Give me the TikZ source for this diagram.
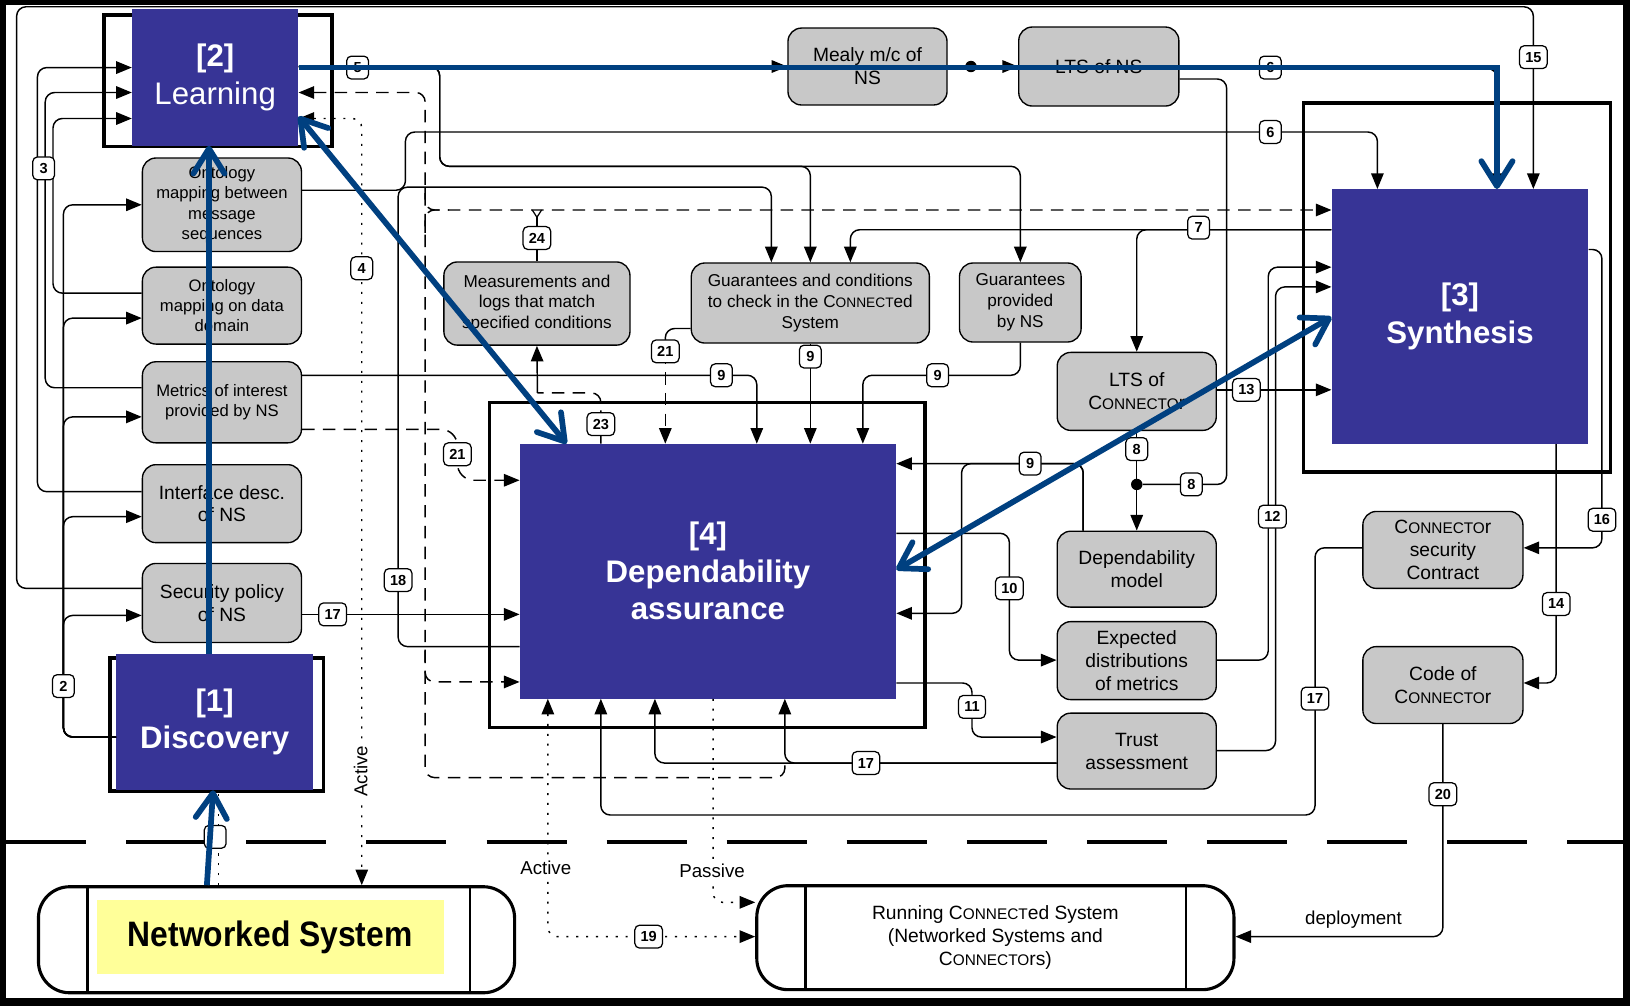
\documentclass[tikz,border=0pt]{standalone}
\usepackage{graphicx}
\usepackage{fontspec}
\setmainfont{Liberation Sans}
\usetikzlibrary{arrows.meta}

\definecolor{procblue}{RGB}{55,52,150}
\definecolor{flowblue}{RGB}{0,64,128}
\definecolor{boxgray}{RGB}{200,200,200}
\definecolor{nsyellow}{RGB}{255,255,153}

\newcommand\fs[2]{\fontsize{#1}{#2}\selectfont}
\newcommand\smc[2]{{\fontsize{#1}{#1}\selectfont #2}}

\tikzset{
  conn/.style={line width=1.4pt, rounded corners=9pt},
  arr/.style={conn, -{Triangle[length=15pt,width=12pt]}},
  rarr/.style={conn, {Triangle[length=15pt,width=12pt]}-},
  arrs/.style={conn, {Triangle[length=15pt,width=12pt]}-{Triangle[length=15pt,width=12pt]}},
  dsh/.style={dash pattern=on 12pt off 8pt},
  dtt/.style={dash pattern=on 2pt off 7.5pt},
  gbox/.style={draw, line width=1.3pt, fill=boxgray, rounded corners=13pt, align=center, inner sep=0pt},
  numlbl/.style={draw, line width=1.2pt, fill=white, rounded corners=4.5pt, inner xsep=5.5pt, inner ysep=1pt,
                 minimum width=21pt, minimum height=22pt, font=\bfseries\fs{14}{14}},
  procbox/.style={fill=procblue, text=white, align=center, inner sep=0pt, font=\fs{30}{36}},
  procframe/.style={draw, line width=3.3pt},
  pill/.style={draw, line width=3pt, rounded corners=30pt, inner sep=0pt, align=center},
  flow/.style={draw=flowblue, line width=5.5pt},
  flowtip/.tip={Straight Barb[length=24pt,width=30pt,round]},
  junction/.style={circle, fill=black, inner sep=0pt, minimum size=11pt},
  notelbl/.style={fill=white, inner sep=1pt, font=\fs{18}{20}},
}

\begin{document}
\begin{tikzpicture}[x=1pt, y=-1pt]
\useasboundingbox (0,0) rectangle (1568,968);

% page frame
\fill[black] (0,0) rectangle (1568,968);
\fill[white] (6,5) rectangle (1561,960);

% boundary between design time and run time
\draw[line width=3.5pt, dash pattern=on 77pt off 38.5pt] (6,810) -- (1561,810);

% frames of the four process blocks
\draw[procframe] (100,14.5) rectangle (319.5,141);
\draw[procframe] (1254,99) rectangle (1549,454);
\draw[procframe] (471,387) rectangle (890,700);
\draw[procframe] (106,633) rectangle (311,761);

% process blocks
\node[procbox, minimum width=160pt, minimum height=131pt] (learn) at (207,74.5) {\textbf{[2]}\\Learning};
\node[procbox, minimum width=189pt, minimum height=131pt, font=\bfseries\fs{30}{35}] (disc) at (206.5,694.5) {[1]\\Discovery};
\node[procbox, minimum width=247pt, minimum height=245pt, font=\bfseries\fs{30}{36}] (synth) at (1404.5,304.5) {[3]\\Synthesis};
\node[procbox, minimum width=362pt, minimum height=245pt, font=\bfseries\fs{30}{36}] (dep) at (681,549.5) {[4]\\Dependability\\assurance};

% artefacts
\node[gbox, minimum width=153pt, minimum height=90pt, font=\fs{16}{19.5}] (ontb) at (213.5,197) {Ontology\\mapping between\\message\\sequences};
\node[gbox, minimum width=153pt, minimum height=74pt, font=\fs{16}{19.5}] (ontd) at (213.5,294) {Ontology\\mapping on data\\domain};
\node[gbox, minimum width=153pt, minimum height=78pt, font=\fs{16}{19.5}] (metr) at (213.5,387) {Metrics of interest\\provided by NS};
\node[gbox, minimum width=153pt, minimum height=75pt, font=\fs{18.5}{22}] (intf) at (213.5,484.5) {Interface desc.\\of NS};
\node[gbox, minimum width=153pt, minimum height=76pt, font=\fs{18.5}{22}] (secp) at (213.5,580) {Security policy\\of NS};
\node[gbox, minimum width=179pt, minimum height=80pt, font=\fs{16.5}{20}] (meas) at (516.5,292) {Measurements and\\logs that match\\specified conditions};
\node[gbox, minimum width=229pt, minimum height=77pt, font=\fs{16.5}{20}] (gchk) at (779.5,291.5) {Guarantees and conditions\\to check in the C\smc{13.2}{ONNECT}ed\\System};
\node[gbox, minimum width=117pt, minimum height=76pt, font=\fs{16.5}{20}] (gprv) at (981.5,291) {Guarantees\\provided\\by NS};
\node[gbox, minimum width=153pt, minimum height=74pt, font=\fs{18.5}{22}] (mealy) at (834.5,64) {Mealy m/c of\\NS};
\node[gbox, minimum width=154pt, minimum height=76pt, font=\fs{18.5}{22}] (ltsns) at (1057,64) {LTS of NS};
\node[gbox, minimum width=153pt, minimum height=75pt, font=\fs{18.5}{22}] (ltsc) at (1093.5,376.5) {LTS of\\C\smc{14.8}{ONNECTO}r};
\node[gbox, minimum width=153pt, minimum height=73pt, font=\fs{18.5}{22}] (dmod) at (1093.5,547.5) {Dependability\\model};
\node[gbox, minimum width=153pt, minimum height=75pt, font=\fs{18.5}{22}] (expd) at (1093.5,635.5) {Expected\\distributions\\of metrics};
\node[gbox, minimum width=153pt, minimum height=73pt, font=\fs{18.5}{22}] (trst) at (1093.5,722.5) {Trust\\assessment};
\node[gbox, minimum width=154pt, minimum height=74pt, font=\fs{18.5}{22}] (csec) at (1388,529) {C\smc{14.8}{ONNECTO}r\\security\\Contract};
\node[gbox, minimum width=154pt, minimum height=74pt, font=\fs{18.5}{22}] (code) at (1388,659) {Code of\\C\smc{14.8}{ONNECTO}r};

% run-time systems
\node[pill, minimum width=458pt, minimum height=102pt] (ns) at (266,904) {};
\draw[line width=2.5pt] (ns.north -| 84,0) -- (ns.south -| 84,0);
\draw[line width=2.5pt] (ns.north -| 452,0) -- (ns.south -| 452,0);
\node[fill=nsyellow, minimum width=334pt, minimum height=71pt, inner sep=0pt, font=\bfseries\fs{34}{36}] (nstext) at (260,901.5) {\scalebox{0.9}[1]{Networked System}};

\node[pill, minimum width=459pt, minimum height=100pt, font=\fs{18.5}{22}] (run) at (957.5,902)
  {Running C\smc{14.8}{ONNECT}ed System\\(Networked Systems and\\C\smc{14.8}{ONNECTO}rs)};
\draw[line width=2.5pt] (run.north -| 775,0) -- (run.south -| 775,0);
\draw[line width=2.5pt] (run.north -| 1141,0) -- (run.south -| 1141,0);

% left column feeding Learning (3)
\draw[arr] (intf.west |- 0,473) -| (36,65) -- (learn.west |- 0,65);
\draw[arr] (metr.west |- 0,373) -| (43.5,89) -- (learn.west |- 0,89);
\draw[arr] (ontd.west |- 0,282) -| (51,114) -- (learn.west |- 0,114);
% security policy to Synthesis (15)
\draw[arr] (secp.west |- 0,566) -| (16,6.5) -| (synth.north -| 1475,0);
% Discovery produces the left column (2)
\foreach \b/\y in {ontb/197, ontd/306, metr/401, intf/497, secp/592}
  \draw[arr] (disc.west |- 0,709) -| (61,\y) -- (\b.west |- 0,\y);

% Learning outputs (5)
\draw[arr] (learn.east |- 0,64) -- (mealy.west |- 0,64);
\draw[arr] (learn.east |- 0,64) -| (423,160) -| (gchk.north);
\draw[arr] (learn.east |- 0,64) -| (423,160) -| (gprv.north);

% dashed feedback bus
\draw[rarr, dsh] (learn.east |- 0,89) -| (409,748) -| (755,734);
\draw[arr, dsh] (409,625) |- (dep.west |- 0,656);
\draw[arr, dsh] (409,180) |- (synth.west |- 0,202);
\draw[conn, dsh] (409,224) |- (432,202);
% measurements up to the bus (24)
\draw[conn] (meas.north) -- (516.5,209);
\draw[line width=1.2pt] (512,202) -- (516.5,209) -- (521,202);

% metrics into Dependability assurance (21, 9)
\draw[arr, dsh, rounded corners=16pt] (metr.east |- 0,413) -| (440,462) -- (dep.west |- 0,462);
\draw[arr] (metr.east |- 0,361) -| (dep.north -| 728,0);
% security policy into Dependability assurance (17)
\draw[arr] (secp.east |- 0,591) -- (dep.west |- 0,591);

% guarantees into Dependability assurance (21, 9)
\draw[conn] (gchk.west |- 0,316) -| (640,338);
\draw[arr, dsh] (640,338) -- (dep.north -| 640,0);
\draw[arr] (gchk.south) -- (dep.north -| gchk.south);
\draw[arr] (gprv.south) |- (830,361) -- (dep.north -| 830,0);

% Dependability assurance to measurements (23)
\draw[conn, dsh] (dep.north -| 578,0) |- (517,378);
\draw[arr] (517,378) -- (meas.south);
% Dependability assurance to guarantees (18)
\draw[arr] (dep.west |- 0,622) -| (383,180) -| (gchk.north -| 742,0);

% ontology mapping to Synthesis (6)
\draw[arr] (ontb.east |- 0,183) -| (390,127) -| (synth.north -| 1325,0);

% Mealy machine to LTS, LTS to Synthesis (6)
\node[junction] (j1) at (934,64) {};
\draw[arr] (j1) -- (ltsns.west |- j1);
\draw[arr] (ltsns.east |- 0,66) -| (synth.north -| 1440,0);

% LTS of NS and LTS of connector to dependability model (8)
\node[junction] (j2) at (1093.5,466) {};
\draw[conn] (ltsns.east |- 0,76) -| (1180,466) -- (j2);
\draw[conn] (ltsc.south) -- (j2);
\draw[arr] (j2) -- (dmod.north);

% Synthesis outputs (7, 16, 14)
\draw[arr] (synth.west |- 0,221) -| (gchk.north -| 818,0);
\draw[arr] (synth.west |- 0,221) -| (ltsc.north);
\draw[arr] (synth.east |- 0,240) -| (1541,527) -- (csec.east |- 0,527);
\draw[arr] (synth.south -| 1497,0) |- (code.east |- 0,657);
% inputs to Synthesis (13, 12)
\draw[arr] (ltsc.east |- 0,375) -- (synth.west |- 0,375);
\draw[arr] (expd.east |- 0,635) -| (1220,257) -- (synth.west |- 0,257);
\draw[arr] (trst.east |- 0,722) -| (1227,276) -- (synth.west |- 0,276);

% connector security contract to Dependability assurance (17)
\draw[arr] (csec.west |- 0,527) -| (1265,784) -| (dep.south -| 578,0);
% deployment (20)
\draw[arr] (code.south) |- (run.east |- 0,901);

% dependability model into Dependability assurance (9)
\draw[arr] (dmod.north -| 1042,0) |- (dep.east |- 0,446);
\draw[arr] (dmod.north -| 1042,0) |- (925,446) |- (dep.east |- 0,590);
% Dependability assurance outputs (10, 11)
\draw[arr] (dep.east |- 0,513) -| (971,635) -- (expd.west |- 0,635);
\draw[arr] (dep.east |- 0,657) -| (935,709) -- (trst.west |- 0,709);
% trust assessment back (17)
\draw[arr] (trst.west |- 0,734) -| (dep.south -| 630,0);
\draw[arr] (trst.west |- 0,734) -| (dep.south -| 755,0);

% monitoring links (dotted)
\draw[arrs, dtt] (learn.east |- 0,114) -| (ns.north -| 348,0);
\draw[conn, dtt] (ns.north -| 210,0) -- (disc.south -| 210,0);
\draw[arrs, dtt] (dep.south -| 527,0) |- (run.west |- 0,901);
\draw[arr, dtt] (dep.south -| 686,0) |- (run.west |- 0,868);

% link texts
\node[notelbl, rotate=90] (act1) at (347,742) {Active};
\node[notelbl] (act2) at (525,835) {Active};
\node[notelbl] (pas) at (685,838) {Passive};
\node[font=\fs{18}{20}] (deploy) at (1302,885) {deployment};

% link numbers
\node[numlbl] (n1) at (207,805) {\phantom{1}};
\node[numlbl] (n2) at (61,660) {2};
\node[numlbl] (n3) at (42,162) {3};
\node[numlbl] (n4) at (348,258) {4};
\node[numlbl] (n5) at (344,65) {5};
\node[numlbl] (n6a) at (1222,127) {6};
\node[numlbl] (n6b) at (1222,65) {6};
\node[numlbl] (n7) at (1153,219) {7};
\node[numlbl] (n8a) at (1093.5,432) {8};
\node[numlbl] (n8b) at (1146,466) {8};
\node[numlbl] (n9a) at (694,361) {9};
\node[numlbl] (n9b) at (779.5,343) {9};
\node[numlbl] (n9c) at (902,361) {9};
\node[numlbl] (n9d) at (991,446) {9};
\node[numlbl] (n10) at (971,566) {10};
\node[numlbl] (n11) at (935,680) {11};
\node[numlbl] (n12) at (1224,497) {12};
\node[numlbl] (n13) at (1199,375) {13};
\node[numlbl] (n14) at (1497,581) {14};
\node[numlbl] (n15) at (1475,55) {15};
\node[numlbl] (n16) at (1541,500) {16};
\node[numlbl] (n17a) at (320,591) {17};
\node[numlbl] (n17b) at (833,734) {17};
\node[numlbl] (n17c) at (1265,672) {17};
\node[numlbl] (n18) at (383,558) {18};
\node[numlbl] (n19) at (624,901) {19};
\node[numlbl] (n20) at (1388,764) {20};
\node[numlbl] (n21a) at (440,437) {21};
\node[numlbl] (n21b) at (640,338) {21};
\node[numlbl] (n23) at (578,408) {23};
\node[numlbl] (n24) at (516.5,229) {24};

% main process flow
\draw[flow, -flowtip] (disc.north -| 201,0) -- (learn.south -| 201,0);
\draw[flow, -flowtip] (ns.north -| 199,0) -- (disc.south -| 205,0);
\draw[flow, -flowtip] (learn.east |- 0,65) -| (synth.north -| 1440,0);
\draw[flow, flowtip-flowtip] (learn.east |- 0,112) -- (dep.north -| 545,0);
\draw[flow, flowtip-flowtip] (dep.east |- 0,548) -- (synth.west |- 0,305);
\end{tikzpicture}
\end{document}
